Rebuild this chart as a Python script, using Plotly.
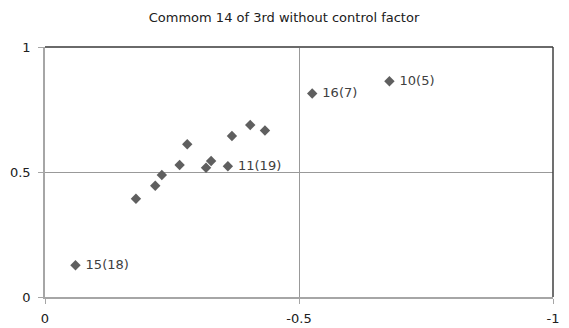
import plotly.graph_objects as go

x_vals = [-0.060, -0.179, -0.217, -0.230, -0.265, -0.280, -0.317, -0.327, -0.360, -0.368, -0.404, -0.433, -0.526, -0.678]
y_vals = [0.127, 0.393, 0.445, 0.488, 0.528, 0.611, 0.517, 0.544, 0.523, 0.644, 0.688, 0.666, 0.814, 0.863]
labels = ["15(18)", "", "", "", "", "", "", "", "11(19)", "", "", "", "16(7)", "10(5)"]
x_ticks = [0, -0.5, -1]
y_ticks = [0, 0.5, 1]

font_family = "DejaVu Sans"

fig = go.Figure()
fig.add_trace(go.Scatter(
    x=x_vals, y=y_vals, mode="markers+text",
    text=[(" " + t) if t else "" for t in labels],
    textposition="middle right",
    textfont=dict(family=font_family, size=13, color="#404040"),
    marker=dict(symbol="diamond", size=8, color="#5f5f5f"),
    cliponaxis=False, showlegend=False,
))

# The page body has an 8px margin, so the figure is offset by 8px.
fig.update_layout(
    width=561, height=320,
    margin=dict(l=37, r=15.7, t=38.7, b=30.7, autoexpand=False),
    paper_bgcolor="white", plot_bgcolor="white",
    title=dict(text="Commom 14 of 3rd without control factor", x=0.492, xref="container",
               y=1 - 9 / 320, yref="container", xanchor="center", yanchor="middle",
               automargin=False,
               font=dict(family=font_family, size=13, color="#202020")),
    font=dict(family=font_family, size=13, color="#202020"),
)
fig.update_xaxes(range=[0, -1], tickvals=x_ticks, ticktext=["0", "-0.5", "-1"],
                 showgrid=True, gridcolor="#999999", gridwidth=1,
                 showline=True, linecolor="#a6a6a6", linewidth=1.5,
                 ticks="outside", ticklen=5, tickcolor="#a6a6a6",
                 ticklabelstandoff=4,
                 zeroline=False, automargin=False, tickfont=dict(size=13, color="#202020"))
fig.update_yaxes(range=[0, 1], tickvals=y_ticks, ticktext=["0", "0.5", "1"],
                 showgrid=True, gridcolor="#999999", gridwidth=1,
                 showline=True, linecolor="#a6a6a6", linewidth=1.5,
                 ticks="outside", ticklen=5, tickcolor="#a6a6a6",
                 ticklabelstandoff=5,
                 zeroline=False, automargin=False, tickfont=dict(size=13, color="#202020"))
fig.add_shape(type="line", xref="paper", yref="paper", x0=0, x1=1, y0=1, y1=1,
              line=dict(color="#6a6a6a", width=2))
fig.add_shape(type="line", xref="paper", yref="paper", x0=1, x1=1, y0=0, y1=1,
              line=dict(color="#404040", width=1.5))

fig.write_html("out.html")
